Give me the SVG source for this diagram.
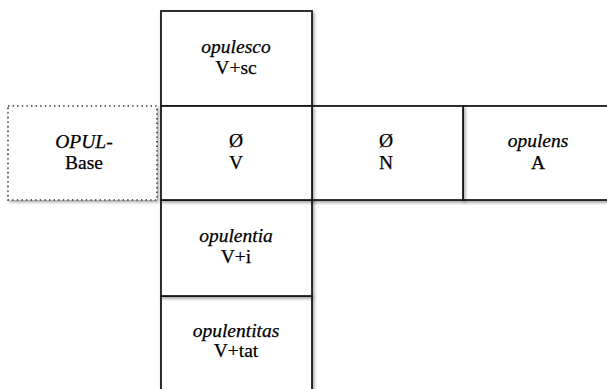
<svg xmlns="http://www.w3.org/2000/svg" width="607" height="389" viewBox="0 0 607 389" font-family="'Liberation Serif', 'DejaVu Serif', 'Times New Roman', serif">
<style>
.box{fill:#fff;stroke:#1a1a1a;stroke-width:1.8}
.dot{fill:#fff;stroke:#333;stroke-width:1.6;stroke-dasharray:1.4 3.2}
text{font-family:'Liberation Serif','DejaVu Serif','Times New Roman',serif;font-size:19.5px;fill:#000;stroke:#000;stroke-width:0.25;text-anchor:middle}
.it{font-style:italic}
</style>
<defs>
<filter id="sh" x="-10%" y="-10%" width="130%" height="130%">
<feDropShadow dx="1.5" dy="2" stdDeviation="1.5" flood-color="#000" flood-opacity="0.35"/>
</filter>
</defs>
<g id="base">
<rect class="dot" x="8" y="106" width="149" height="94" filter="url(#sh)"/>
<text x="84" y="148"><tspan class="it">OPUL</tspan>-</text>
<text x="84" y="169">Base</text>
</g>
<g id="opulesco">
<rect class="box" x="161" y="11" width="151" height="95" filter="url(#sh)"/>
<text class="it" x="236" y="53">opulesco</text>
<text x="236" y="74">V+sc</text>
</g>
<g id="opulentitas">
<rect class="box" x="161" y="296" width="151" height="100" filter="url(#sh)"/>
<text class="it" x="236" y="337">opulentitas</text>
<text x="236" y="357">V+tat</text>
</g>
<g id="opulentia">
<rect class="box" x="161" y="200" width="151" height="96" filter="url(#sh)"/>
<text class="it" x="236" y="242">opulentia</text>
<text x="236" y="263">V+i</text>
</g>
<g id="opulens">
<rect class="box" x="463" y="106" width="150" height="94" filter="url(#sh)"/>
<text class="it" x="538" y="147">opulens</text>
<text x="538" y="169">A</text>
</g>
<g id="zeroN">
<rect class="box" x="312" y="106" width="151" height="94" filter="url(#sh)"/>
<text x="386" y="147">Ø</text>
<text x="386" y="169">N</text>
</g>
<g id="zeroV">
<rect class="box" x="161" y="106" width="151" height="94" filter="url(#sh)"/>
<text x="236" y="147">Ø</text>
<text x="236" y="169">V</text>
</g>
<g id="connectors"></g>
</svg>
